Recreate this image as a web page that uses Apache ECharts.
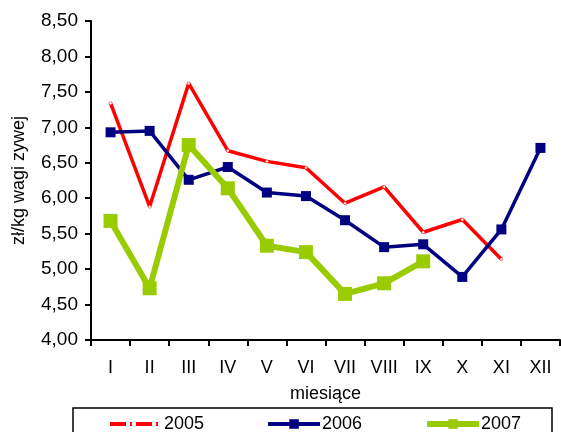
<!DOCTYPE html>
<html><head><meta charset="utf-8">
<script src="https://cdn.jsdelivr.net/npm/echarts@6/dist/echarts.min.js"></script>
<style>html,body{margin:0;padding:0;background:#fff}#c{width:561px;height:432px}</style>
</head><body><div id="c"></div>
<script>
const months = ['I','II','III','IV','V','VI','VII','VIII','IX','X','XI','XII'];
const y2005 = [7.34,5.88,7.62,6.67,6.52,6.43,5.93,6.16,5.52,5.70,5.14,null];
const y2006 = [6.93,6.95,6.26,6.44,6.08,6.03,5.69,5.31,5.35,4.89,5.56,6.71];
const y2007 = [5.68,4.73,6.75,6.14,5.33,5.24,4.65,4.80,5.11,null,null,null];
const yTicks = [4.0,8.5,0.5];

const font = 'Liberation Sans, Arial, sans-serif';
const chart = echarts.init(document.getElementById('c'));
chart.setOption({
  animation:false,
  backgroundColor:'#fff',
  grid:{left:91,right:1,top:21,bottom:92,containLabel:false,outerBoundsMode:'none'},
  graphic:[{type:'rect',shape:{x:73,y:408,width:479,height:40},style:{fill:'none',stroke:'#000',lineWidth:1.5},z:0}],
  legend:{left:103,top:410,itemWidth:52,itemHeight:12,itemGap:62,
    textStyle:{fontFamily:font,fontSize:18,color:'#000',padding:[0,0,0,-3]},
    data:[{name:'2005',itemStyle:{opacity:0},lineStyle:{type:[16,4,2,4],width:4}},
          {name:'2006',lineStyle:{width:4}},
          {name:'2007',lineStyle:{width:6}}]},
  xAxis:{type:'category',data:months,boundaryGap:true,
    name:'miesiące',nameLocation:'middle',nameGap:45,
    nameTextStyle:{fontFamily:font,fontSize:18,color:'#000'},
    axisLine:{lineStyle:{color:'#000',width:2}},
    axisTick:{show:true,length:6,lineStyle:{color:'#000',width:2}},
    axisLabel:{fontFamily:font,fontSize:18,color:'#000',margin:19}},
  yAxis:{type:'value',min:yTicks[0],max:yTicks[1],interval:yTicks[2],
    name:'zł/kg wagi zywej',nameLocation:'middle',nameGap:63,
    nameTextStyle:{fontFamily:font,fontSize:18,color:'#000'},
    axisLine:{show:true,lineStyle:{color:'#000',width:2}},
    axisTick:{show:true,length:6,lineStyle:{color:'#000',width:2}},
    splitLine:{show:false},
    axisLabel:{fontFamily:font,fontSize:19,color:'#000',margin:13,
      formatter:v=>v.toFixed(2).replace('.',',')}},
  series:[
    {name:'2005',type:'line',data:y2005,symbol:'circle',symbolSize:3,
      lineStyle:{color:'#ff0000',width:3.5},itemStyle:{color:'#fff',borderColor:'#ff0000',borderWidth:0.5}},
    {name:'2006',type:'line',data:y2006,symbol:'rect',symbolSize:10,
      lineStyle:{color:'#000080',width:3.5},itemStyle:{color:'#000080'}},
    {name:'2007',type:'line',data:y2007,symbol:'rect',symbolSize:14,
      lineStyle:{color:'#99cc00',width:6},itemStyle:{color:'#99cc00'}}
  ]
});
</script></body></html>
